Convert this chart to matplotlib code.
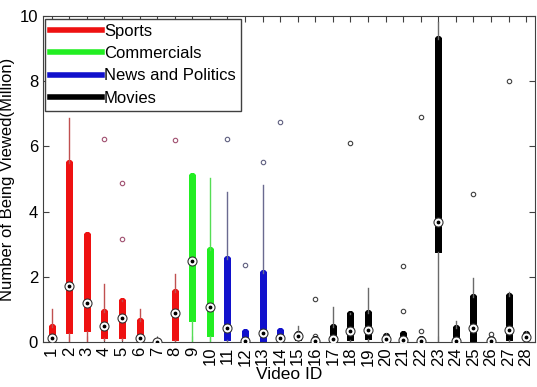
import matplotlib
matplotlib.use('Agg')
import matplotlib.pyplot as plt

plt.rcParams['font.family'] = ['Liberation Sans', 'DejaVu Sans']

video_ids = list(range(1, 29))
groups = ['Sports'] * 8 + ['Commercials'] * 2 + ['News and Politics'] * 4 + ['Movies'] * 14

whis_lo = [0, 0, 0, 0.05, 0.05, 0, 0, 0, 0, 0, 0, 0, 0, 0,
           0.02, 0, 0, 0, 0, 0, 0, 0, 0, 0, 0, 0, 0, 0.02]
q1 = [0, 0.27, 0.34, 0.12, 0.12, 0.03, 0, 0.05, 0.64, 0.18, 0.06, 0, 0, 0,
      0.05, 0, 0, 0.05, 0.09, 0.03, 0.02, 0, 2.76, 0, 0, 0, 0.06, 0.05]
medians = [0.12, 1.72, 1.2, 0.49, 0.74, 0.12, 0.0, 0.88, 2.48, 1.07, 0.43, 0.03, 0.28, 0.12,
           0.18, 0.03, 0.09, 0.34, 0.37, 0.09, 0.06, 0.03, 3.68, 0.03, 0.43, 0.03, 0.37, 0.15]
q3 = [0.46, 5.49, 3.28, 0.92, 1.26, 0.64, 0.03, 1.53, 5.09, 2.82, 2.55, 0.31, 2.12, 0.34,
      0.25, 0.08, 0.46, 0.86, 0.88, 0.2, 0.25, 0.1, 9.29, 0.43, 1.38, 0.08, 1.41, 0.25]
whis_hi = [1.0, 6.87, 3.28, 1.78, 1.3, 1.0, 0.05, 2.1, 5.09, 5.03, 4.6, 0.31, 4.82, 0.34,
           0.49, 0.1, 1.07, 0.88, 1.65, 0.28, 0.25, 0.12, 9.82, 0.64, 1.96, 0.1, 1.53, 0.34]
outliers = [[], [], [], [6.22], [4.88, 3.16], [], [], [6.2], [], [], [6.22], [2.36], [5.52], [6.75],
            [], [1.32, 0.2], [], [6.1], [], [], [2.33, 0.95], [6.9, 0.34], [], [], [4.54], [0.25], [8.0], []]

colors = {'Sports': '#ee1111', 'Commercials': '#22ee22',
          'News and Politics': '#1111cc', 'Movies': '#000000'}
whisker_colors = {'Sports': '#c05050', 'Commercials': '#55dd55',
                  'News and Politics': '#6a6a90', 'Movies': '#6a6a6a'}
flier_colors = {'Sports': '#a05070', 'Commercials': '#55aa55',
                'News and Politics': '#606080', 'Movies': '#404040'}

fig = plt.figure(figsize=(5.37, 3.87), dpi=100)
ax = fig.add_axes([0.080, 0.116, 0.916, 0.843])

for i, vid in enumerate(video_ids):
    g = groups[i]
    stats = [{'whislo': whis_lo[i], 'q1': q1[i], 'med': medians[i], 'q3': q3[i],
              'whishi': whis_hi[i], 'fliers': outliers[i]}]
    ax.bxp(stats, positions=[vid], widths=0.0, showcaps=False,
           boxprops=dict(color=colors[g], linewidth=5, solid_capstyle='butt'),
           whiskerprops=dict(color=whisker_colors[g], linewidth=1),
           medianprops=dict(linewidth=0),
           flierprops=dict(marker='o', markersize=3.2, markerfacecolor='none',
                           markeredgecolor=flier_colors[g], markeredgewidth=0.8),
           manage_ticks=False, zorder=2)

ax.plot(video_ids, medians, 'o', markersize=6.5, markerfacecolor='white',
        markeredgecolor='#333333', markeredgewidth=0.8, linestyle='none', zorder=3)
ax.plot(video_ids, medians, '.', markersize=3.5, color='black', linestyle='none', zorder=4)

ax.set_xlim(0.5, 28.5)
ax.set_ylim(0, 10)
ax.set_xticks(video_ids)
ax.set_xticklabels([str(v) for v in video_ids], rotation=90, fontsize=12)
ax.set_yticks([0, 2, 4, 6, 8, 10])
ax.tick_params(axis='y', labelsize=12)
ax.tick_params(direction='in', top=True, right=True, length=4, color='#404040')
for s in ax.spines.values():
    s.set_color('#404040')

ax.set_xlabel('Video ID', fontsize=12.5, labelpad=1)
ax.set_ylabel('Number of Being Viewed(Million)', fontsize=12, labelpad=3)

handles = [plt.Line2D([0], [0], color=colors[g], lw=4) for g in colors]
leg = ax.legend(handles, list(colors.keys()), loc='upper left', bbox_to_anchor=(0.004, 0.99),
                borderaxespad=0, fontsize=12, handlelength=3.1, handletextpad=0.15,
                labelspacing=0.43, borderpad=0.3, fancybox=False, framealpha=1)
leg.get_frame().set_edgecolor('#404040')

fig.savefig('out.png', dpi=100)
